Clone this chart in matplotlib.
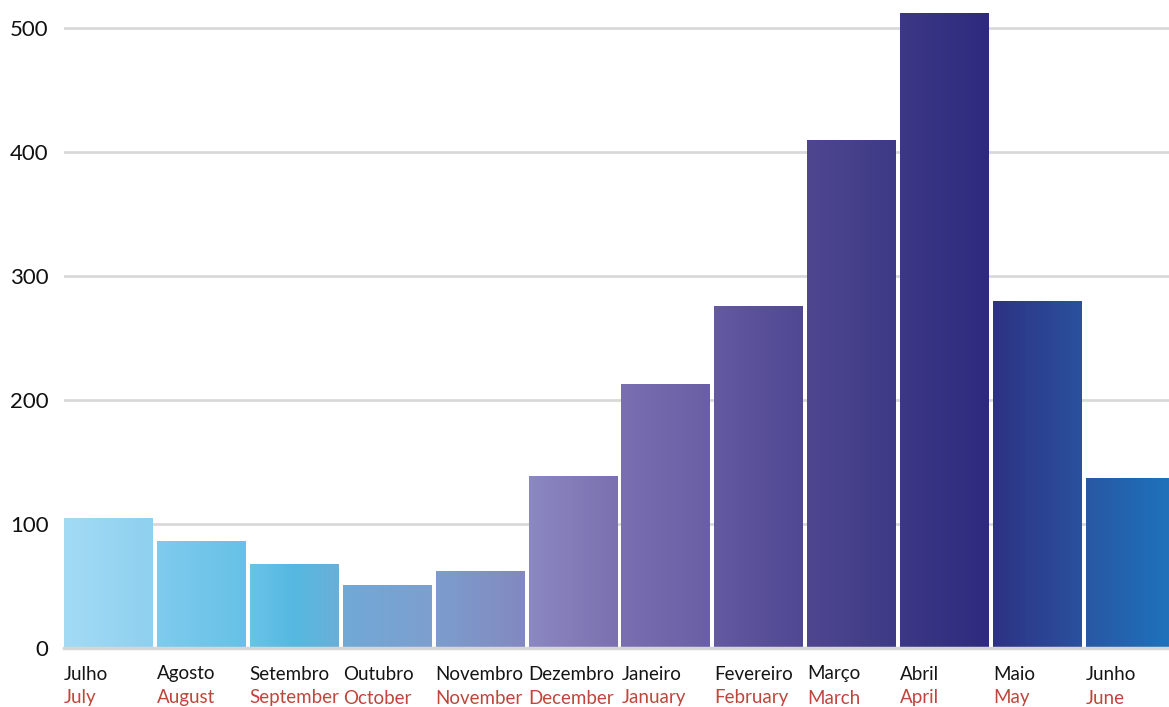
import matplotlib.pyplot as plt
import numpy as np
from matplotlib.colors import LinearSegmentedColormap

plt.rcParams['font.family'] = ['Lato', 'DejaVu Sans']

# data
meses_pt = ['Julho', 'Agosto', 'Setembro', 'Outubro', 'Novembro', 'Dezembro',
            'Janeiro', 'Fevereiro', 'Março', 'Abril', 'Maio', 'Junho']
meses_en = ['July', 'August', 'September', 'October', 'November', 'December',
            'January', 'February', 'March', 'April', 'May', 'June']
valores = [105, 86, 68, 51, 62, 139, 213, 276, 410, 512, 280, 137]

# gradient stops per bar (left -> right)
cores = [
    ['#a3dbf5', '#8ed0ef'],
    ['#7fcbee', '#66c1e6'],
    ['#6ac3e8', '#55b8e0', '#6aafd8'],
    ['#70a9d7', '#7d9fcf'],
    ['#7c9dce', '#8289c0'],
    ['#8b88c2', '#7b70b0'],
    ['#7a6fb0', '#6a5ea6'],
    ['#6459a2', '#504893'],
    ['#4f4690', '#3e3a85'],
    ['#3c3886', '#2e2b7e'],
    ['#2e3283', '#2a519e'],
    ['#2858a3', '#1e73bd'],
]

step = 92.9  # px per bar slot
fig = plt.figure(figsize=(11.69, 7.07), dpi=100)
ax = fig.add_axes([64 / 1169, 59 / 707, 1105 / 1169, 648 / 707])

x = np.arange(len(valores))
w = 0.958
bars = ax.bar(x, valores, width=w, align='edge', color='none',
              edgecolor='none', zorder=3)

grad = np.linspace(0, 1, 256).reshape(1, -1)
for b, c in zip(bars, cores):
    cmap = LinearSegmentedColormap.from_list('g', c)
    x0, h = b.get_x(), b.get_height()
    im = ax.imshow(grad, cmap=cmap, extent=(x0, x0 + w, 0, h),
                   aspect='auto', zorder=3, interpolation='bilinear')
    im.set_clip_path(b)

ax.set_xlim(0, 1105 / step)
ax.set_ylim(0, 648 / 1.24)

ax.set_yticks([0, 100, 200, 300, 400, 500])
ax.yaxis.grid(True, color='#d9d9d9', linewidth=2, zorder=0)
ax.axhline(0, color='#d6d6d6', linewidth=2.5, zorder=4, clip_on=False)
ax.tick_params(axis='y', length=0, pad=11, labelsize=16, labelcolor='#111111')
ax.set_xticks([])
for s in ax.spines.values():
    s.set_visible(False)

tr = ax.get_xaxis_transform()
for i in range(len(valores)):
    ax.text(i, -26 / 648, meses_pt[i], transform=tr, ha='left', va='center',
            fontsize=13.5, color='#151515')
    ax.text(i, -50 / 648, meses_en[i], transform=tr, ha='left', va='center',
            fontsize=13.5, color='#c0453a')

fig.savefig('out.png', dpi=100)
